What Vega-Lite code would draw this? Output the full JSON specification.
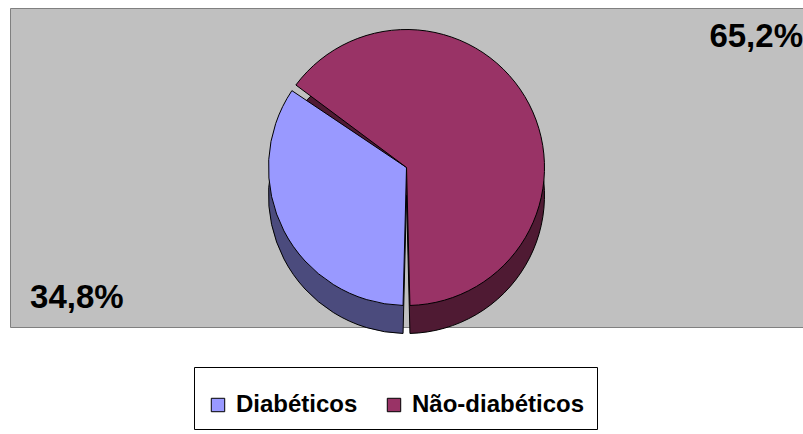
{
  "$schema": "https://vega.github.io/schema/vega-lite/v6.json",
  "width": 793,
  "height": 319,
  "autosize": {"type": "none"},
  "padding": {"left": 10, "top": 8, "right": 0, "bottom": 107},
  "background": "white",
  "view": {"fill": "#C0C0C0", "stroke": "#808080", "strokeWidth": 1},
  "data": {
    "values": [
      {"grupo": "Diabéticos", "pct": 34.8, "rotulo": "34,8%"},
      {"grupo": "Não-diabéticos", "pct": 65.2, "rotulo": "65,2%"}
    ]
  },
  "encoding": {
    "theta": {"field": "pct", "type": "quantitative", "stack": true, "scale": {"range": [3.14159, 9.42478]}},
    "order": {"field": "grupo", "sort": "ascending"}
  },
  "layer": [
    {
      "mark": {"type": "arc", "outerRadius": 138, "yOffset": 28, "padAngle": 0.05, "stroke": "black", "strokeWidth": 1},
      "encoding": {
        "color": {"field": "grupo", "type": "nominal", "scale": {"domain": ["Diabéticos", "Não-diabéticos"], "range": ["#4B4B7D", "#4F1A33"]}, "legend": null}
      }
    },
    {
      "mark": {"type": "arc", "outerRadius": 138, "padAngle": 0.05, "stroke": "black", "strokeWidth": 1},
      "encoding": {
        "fill": {"field": "grupo", "type": "nominal", "scale": {"domain": ["Diabéticos", "Não-diabéticos"], "range": ["#9999FF", "#993366"]},
          "legend": {
            "title": " ", "titleFontSize": 10, "titlePadding": 4, "orient": "none", "legendX": 184, "legendY": 359, "direction": "horizontal",
            "symbolType": "square", "symbolSize": 180, "symbolStrokeColor": "black", "symbolStrokeWidth": 1,
            "labelFont": "Liberation Sans", "labelFontSize": 24, "labelFontWeight": "bold", "labelColor": "black", "labelLimit": 400,
            "columnPadding": 24, "labelOffset": 6,
            "fillColor": "white", "strokeColor": "black", "padding": 12, "cornerRadius": 0
          }
        }
      }
    },
    {
      "mark": {"type": "text", "radius": 364, "thetaOffset": 0.11, "dx": 10, "font": "Liberation Sans", "fontSize": 33, "fontWeight": "bold", "color": "black"},
      "encoding": {"text": {"field": "rotulo"}}
    }
  ],
  "resolve": {"scale": {"color": "independent"}}
}
